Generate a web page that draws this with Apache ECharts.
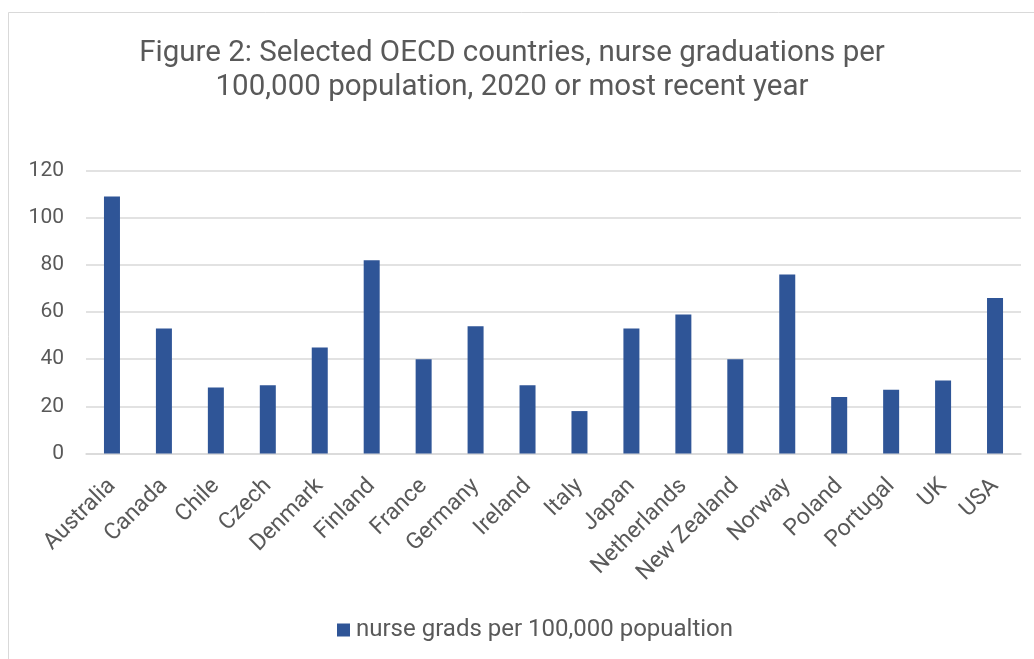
<!DOCTYPE html>
<html>
<head>
<meta charset="utf-8">
<script src="https://cdn.jsdelivr.net/npm/echarts@6/dist/echarts.min.js"></script>
<style>
html,body{margin:0;padding:0;background:#fff;}
#chart{width:1034px;height:659px;}
</style>
</head>
<body>
<div id="chart"></div>
<script>
const categories = ['Australia','Canada','Chile','Czech','Denmark','Finland','France','Germany','Ireland','Italy','Japan','Netherlands','New Zealand','Norway','Poland','Portugal','UK','USA'];
const values = [109,53,28,29,45,82,40,54,29,18,53,59,40,76,24,27,31,66];
const seriesName = 'nurse grads per 100,000 popualtion';
const titleText = 'Figure 2: Selected OECD countries, nurse graduations per\n100,000 population, 2020 or most recent year';

const chart = echarts.init(document.getElementById('chart'), null, {renderer:'canvas'});
const font = 'Roboto, "Noto Sans", sans-serif';
chart.setOption({
  backgroundColor:'#fff',
  animation:false,
  graphic:[{
    type:'rect', shape:{x:8.5,y:12.5,width:1040,height:660},
    style:{fill:'none',stroke:'#d9d9d9',lineWidth:1}, silent:true, z:-1
  }],
  title:{
    text:titleText, left:507, top:32, textAlign:'center',
    textStyle:{fontFamily:font,fontSize:29.5,fontWeight:'normal',color:'#595959',lineHeight:34}
  },
  legend:{
    data:[seriesName], top:613, left:332,
    icon:'rect', itemWidth:13, itemHeight:13, itemGap:5,
    textStyle:{fontFamily:font,fontSize:24,color:'#595959',padding:[0,0,0,1]}
  },
  grid:{left:86,right:13,top:170.7,bottom:205.5,containLabel:false},
  xAxis:{
    type:'category', data:categories,
    axisLine:{show:true,lineStyle:{color:'#d9d9d9',width:1.5}},
    axisTick:{show:false},
    axisLabel:{rotate:45,interval:0,fontFamily:font,fontSize:23,color:'#595959',margin:29}
  },
  yAxis:{
    type:'value', min:0, max:120, interval:20,
    axisLine:{show:false}, axisTick:{show:false},
    splitLine:{lineStyle:{color:'#d9d9d9',width:1.5}},
    axisLabel:{fontFamily:font,fontSize:21,color:'#595959',margin:22}
  },
  series:[{
    name:seriesName, type:'bar', data:values, barWidth:16,
    itemStyle:{color:'#2f5597'}
  }]
});
</script>
</body>
</html>
